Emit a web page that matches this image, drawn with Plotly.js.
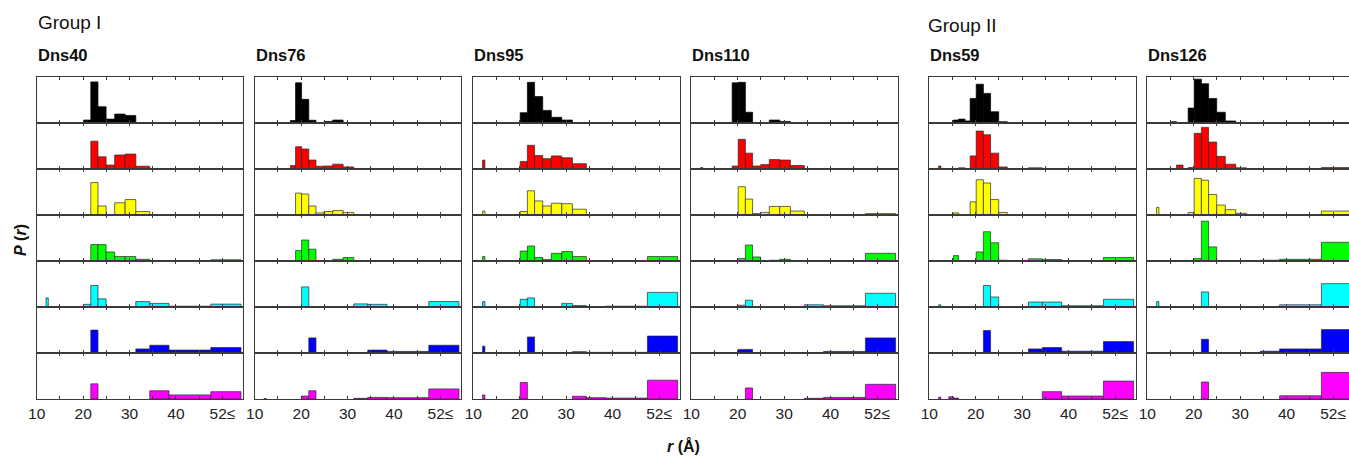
<!DOCTYPE html>
<html><head><meta charset="utf-8">
<script src="https://cdn.plot.ly/plotly-3.0.1.min.js"></script>
<style>html,body{margin:0;padding:0;overflow:hidden;background:#fff}#chart{width:1356px;height:456px}</style>
</head><body><div id="chart"></div>
<script>
// Bin edges (Å). First bin is the narrow "<12" bin, last bin is "52≤".
const binLo = [12.0,14.2,15.2,16.3,17.7,18.8,20.1,21.65,23.2,24.95,26.8,29.05,31.35,34.35,38.5,47.5];
const binHi = [12.5,15.2,16.3,17.7,18.8,20.1,21.65,23.2,24.95,26.8,29.05,31.35,34.35,38.5,47.5,54.0];

const tickVals = [10,15,20,25,30,35,40,45,50];
const tickText = ['10','','20','','30','','40','','52≤'];

const panelNames = ['Dns40','Dns76','Dns95','Dns110','Dns59','Dns126'];
const groupNames = ['Group I','Group II'];
const rowColors = ['#000000','#ff0000','#ffff00','#00ff00','#00ffff','#0000ff','#ff00ff'];

// P(r) per row (black, red, yellow, green, cyan, blue, magenta), 16 bins each
const dns40 = [
  [0,0,0,0,0,0,.07,.90,.36,.09,.20,.17,0,0,0,0],
  [0,0,0,0,0,0,0,.61,.27,.09,.31,.33,.065,0,0,0],
  [0,0,0,0,0,0,0,.71,.20,0,.27,.34,.08,0,0,0],
  [0,0,0,0,0,0,0,.36,.36,.20,.10,.10,.04,.01,0,.03],
  [.20,0,0,0,0,0,.06,.47,.18,0,0,.01,.12,.08,.02,.065],
  [0,0,0,0,0,0,0,.50,0,0,0,0,.09,.17,.065,.12],
  [0,0,0,0,0,0,0,.33,0,0,0,0,0,.18,.09,.16]
];
const dns76 = [
  [0,0,0,0,.06,.88,.52,.065,0,.04,.07,0,0,0,0,0],
  [0,0,0,0,.08,.49,.44,.20,.065,.07,.11,.05,0,0,0,.01],
  [0,0,0,0,0,.48,.46,.20,.05,.08,.10,.06,0,0,0,0],
  [0,0,0,0,0,.23,.46,.26,.01,0,.04,.08,.01,0,0,.01],
  [0,0,0,0,0,0,.44,0,0,0,0,0,.07,.06,.01,.12],
  [0,0,0,0,0,0,0,.33,0,0,0,0,0,.065,.035,.17],
  [.01,0,0,0,0,0,.065,.18,0,0,0,0,.015,.035,.03,.22]
];
const dns95 = [
  [0,0,0,0,0,0,.23,.89,.58,.28,.13,.07,.015,0,0,.015],
  [.20,0,0,0,0,0,.17,.52,.30,.23,.29,.25,.12,.01,0,.01],
  [.09,0,0,0,0,0,.08,.53,.31,.20,.26,.25,.13,.01,0,0],
  [.10,0,0,0,0,0,.22,.33,.08,.035,.17,.21,.10,0,0,.10],
  [.12,0,0,0,0,0,.17,.20,0,0,.01,.08,.035,.01,.02,.32],
  [.15,0,0,0,0,0,0,.35,0,0,0,.01,.03,.015,.015,.37],
  [.09,0,0,0,0,0,.36,0,0,0,0,0,.06,.03,.02,.41]
];
const dns110 = [
  [0,0,0,0,0,.88,.89,.24,.015,0,.07,.04,0,0,0,0],
  [.035,0,0,0,0,.07,.65,.35,.07,.10,.21,.20,.08,0,0,.01],
  [0,0,0,0,0,0,.62,.35,.035,.06,.19,.19,.09,.01,0,.035],
  [0,0,0,0,0,0,.06,.35,.09,0,.02,.04,.01,.01,0,.17],
  [0,0,0,0,0,0,.04,.15,0,0,0,0,0,.05,.03,.30],
  [0,0,0,0,0,0,.08,.08,0,0,0,0,0,.01,.035,.33],
  [0,0,0,0,0,0,0,.24,0,0,0,0,0,.015,.035,.32]
];
const dns59 = [
  [0,0,.07,.09,.05,.54,.85,.65,.25,.035,0,.01,.01,0,0,.01],
  [.07,0,0,.03,0,.29,.83,.75,.35,.05,0,.01,.03,.01,0,.01],
  [0,0,.05,0,0,.29,.77,.70,.34,.06,0,.01,.01,0,0,.01],
  [0,0,.12,0,0,0,.20,.64,.40,.02,0,0,.05,.035,0,.08],
  [.05,0,0,0,0,0,0,.47,.22,0,0,0,.11,.11,.03,.17],
  [0,0,0,0,0,0,0,.49,0,0,0,0,.09,.12,.04,.25],
  [.04,.05,.02,0,0,0,0,0,0,0,0,0,0,.16,.065,.39]
];
const dns126 = [
  [0,0,.035,0,0,.33,.96,.86,.54,.24,.05,0,0,0,0,.01],
  [0,0,0,.09,0,.035,.78,.91,.59,.28,.11,.03,0,.01,0,.035],
  [.17,0,0,0,0,.06,.80,.76,.45,.22,.12,.04,0,0,0,.09],
  [0,0,0,0,0,0,.06,.87,.31,0,0,0,0,.02,.04,.41],
  [.12,0,0,0,0,0,0,.33,0,0,0,0,0,.01,.05,.51],
  [0,0,0,0,0,0,0,.30,0,0,0,0,0,.04,.09,.51],
  [0,0,0,0,0,0,0,.37,0,0,0,0,0,0,.07,.58]
];
const panels = [dns40, dns76, dns95, dns110, dns59, dns126];

// ---- layout geometry (pixels) ----
const W = 1356, H = 456;
const panelLeft = [36.7, 254.7, 473.3, 691.3, 929.3, 1147.3];
const panelW = 206.6;
const rowTop0 = 77.3, rowH = 45.96;
const FONT = 'Arial, "Liberation Sans", Helvetica, sans-serif';

const data = [];
const layout = {
  width: W, height: H, autosize: false,
  margin: {l:0, r:0, t:0, b:0},
  paper_bgcolor: '#fff', plot_bgcolor: '#fff',
  showlegend: false, hovermode: false,
  annotations: []
};

panels.forEach((rows, p) => {
  const x0 = panelLeft[p] / W, x1 = (panelLeft[p] + panelW) / W;
  rows.forEach((vals, r) => {
    const idx = p * 7 + r + 1;
    const xs = [], ws = [], ys = [];
    vals.forEach((v, i) => {
      if (v > 0) {
        xs.push((binLo[i] + binHi[i]) / 2);
        ws.push(binHi[i] - binLo[i]);
        ys.push(v);
      }
    });
    data.push({
      type: 'bar', x: xs, y: ys, width: ws,
      xaxis: 'x' + idx, yaxis: 'y' + idx,
      marker: {color: rowColors[r], line: {color: r === 0 ? '#000' : '#2a2a2a', width: 0.7}}
    });
    const top = rowTop0 + r * rowH;
    const xk = idx === 1 ? 'xaxis' : 'xaxis' + idx;
    const yk = idx === 1 ? 'yaxis' : 'yaxis' + idx;
    layout[xk] = {
      domain: [x0, x1], range: [10, 54.5], anchor: 'y' + idx,
      showline: true, linecolor: '#3a3a3a', linewidth: 1, mirror: 'ticks',
      ticks: 'inside', ticklen: 3, tickwidth: 1, tickcolor: '#3a3a3a',
      tickmode: 'array', tickvals: tickVals, ticktext: tickText,
      showticklabels: r === 6, tickangle: 0,
      tickfont: {family: FONT, size: 15.5, color: '#222'},
      showgrid: false, zeroline: false, fixedrange: true
    };
    layout[yk] = {
      domain: [1 - (top + rowH) / H, 1 - top / H], range: [0, 1], anchor: 'x' + idx,
      showline: true, linecolor: '#3a3a3a', linewidth: 1, mirror: true,
      ticks: '', showticklabels: false, showgrid: false, zeroline: false, fixedrange: true
    };
  });
  layout.annotations.push({
    text: '<b>' + panelNames[p] + '</b>', xref: 'paper', yref: 'paper',
    x: (panelLeft[p] - 1) / W, y: 1 - 55 / H, xanchor: 'left', yanchor: 'middle',
    showarrow: false, font: {family: FONT, size: 16.5, color: '#111'}
  });
});

layout.annotations.push(
  {text: groupNames[0], xref: 'paper', yref: 'paper', x: 36 / W, y: 1 - 22 / H,
   xanchor: 'left', yanchor: 'middle', showarrow: false, font: {family: FONT, size: 19, color: '#111'}},
  {text: groupNames[1], xref: 'paper', yref: 'paper', x: 926 / W, y: 1 - 25 / H,
   xanchor: 'left', yanchor: 'middle', showarrow: false, font: {family: FONT, size: 19, color: '#111'}},
  {text: '<b><i>P</i> (<i>r</i>)</b>', xref: 'paper', yref: 'paper', x: 20 / W, y: 1 - 240 / H,
   xanchor: 'center', yanchor: 'middle', textangle: -90, showarrow: false,
   font: {family: FONT, size: 16, color: '#111'}},
  {text: '<b><i>r</i> (Å)</b>', xref: 'paper', yref: 'paper', x: 683 / W, y: 1 - 446 / H,
   xanchor: 'center', yanchor: 'middle', showarrow: false,
   font: {family: FONT, size: 16, color: '#111'}}
);

Plotly.newPlot('chart', data, layout, {staticPlot: true, displayModeBar: false});
</script>
</body></html>
